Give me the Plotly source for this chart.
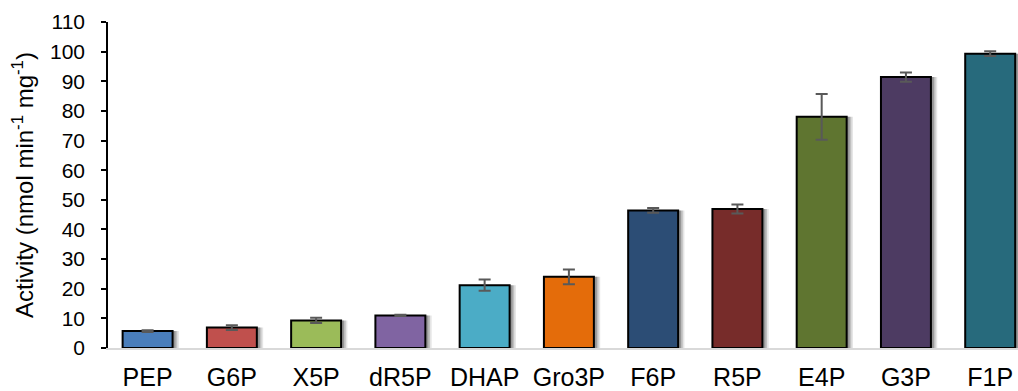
import plotly.graph_objects as go

categories = ["PEP", "G6P", "X5P", "dR5P", "DHAP", "Gro3P", "F6P", "R5P", "E4P", "G3P", "F1P"]
activity = [5.7, 6.9, 9.3, 11.0, 21.2, 24.0, 46.4, 46.9, 78.0, 91.4, 99.3]
errors = [0.3, 0.8, 0.9, 0.2, 1.9, 2.5, 0.8, 1.5, 7.7, 1.6, 0.8]
colors = ["#4A7EBB", "#C0504D", "#9BBB59", "#8064A2", "#4BACC6", "#E46C0A",
          "#2C4D75", "#772C2A", "#5F7530", "#4D3B62", "#276A7C"]
y_ticks = list(range(0, 111, 10))

BAR_W = 0.593

fig = go.Figure()
# soft drop shadow
for sh_off, op in [(0.075, 0.10), (0.055, 0.16), (0.035, 0.22)]:
    fig.add_trace(go.Bar(
        x=categories, y=activity, width=BAR_W, offset=-BAR_W / 2 + sh_off,
        marker=dict(color=f"rgba(0,0,0,{op})", line=dict(width=0)),
        hoverinfo="skip", showlegend=False,
    ))
fig.add_trace(go.Bar(
    x=categories, y=activity, width=BAR_W,
    marker=dict(color=colors, line=dict(color="black", width=2)),
    error_y=dict(type="data", array=errors, visible=True, color="#595959",
                 thickness=2, width=6),
    showlegend=False,
))

fig.update_layout(
    width=1018, height=391,
    margin=dict(l=108, r=0, t=22, b=43),
    barmode="overlay",
    paper_bgcolor="white", plot_bgcolor="white",
    font=dict(family="Liberation Sans, Arial, sans-serif", color="black", size=21),
)
fig.update_xaxes(
    range=[-0.47, 10.33], showline=True, linecolor="#D9D9D9", linewidth=2,
    ticks="", tickfont=dict(size=25), ticklabelstandoff=6, showgrid=False,
    automargin=False,
)
fig.update_yaxes(
    range=[0, 110], tickvals=y_ticks, showline=True, linecolor="black", linewidth=1.5,
    ticks="outside", ticklen=5, tickcolor="black", tickwidth=1.5,
    tickfont=dict(size=21), ticklabelstandoff=12, showgrid=False, zeroline=False,
    automargin=False,
    title=dict(text="Activity (nmol min<sup>-1</sup> mg<sup>-1</sup>)", font=dict(size=24), standoff=10),
)

fig.write_html("out.html")
